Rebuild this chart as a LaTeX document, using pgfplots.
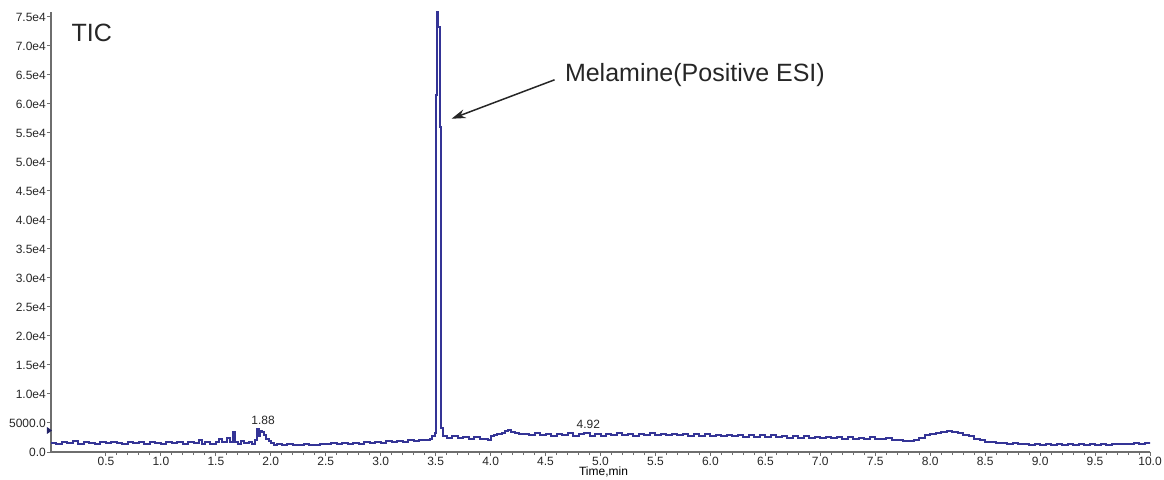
\documentclass[border=0pt]{standalone}
\usepackage{fontspec}
\setmainfont{Liberation Sans}
\usepackage{pgfplots}
\pgfplotsset{compat=1.18}
\usetikzlibrary{calc,arrows.meta}

\definecolor{ticblue}{RGB}{52,52,150}
\definecolor{axgray}{RGB}{110,110,110}

\pgfplotstableread{
t I
0.00 1500
0.05 1350
0.10 1750
0.15 1550
0.20 1850
0.25 1450
0.30 1800
0.35 1550
0.40 1400
0.45 1750
0.50 1500
0.55 1800
0.60 1550
0.65 1350
0.70 1750
0.75 1500
0.80 1700
0.85 1400
0.90 1800
0.95 1550
1.00 1350
1.05 1750
1.10 1500
1.15 1700
1.20 1400
1.25 1750
1.30 1500
1.35 2100
1.37 1450
1.40 1650
1.45 1450
1.50 1750
1.53 2300
1.56 1650
1.60 2400
1.63 1750
1.66 3400
1.675 1650
1.70 1450
1.73 1900
1.76 1550
1.80 1800
1.83 1450
1.86 2000
1.875 3900
1.89 2800
1.905 3700
1.92 3400
1.94 2900
1.96 2300
1.98 1900
2.00 1500
2.03 1250
2.06 1450
2.10 1200
2.15 1400
2.20 1250
2.25 1150
2.30 1400
2.35 1250
2.40 1200
2.45 1450
2.50 1300
2.55 1500
2.60 1350
2.65 1550
2.70 1400
2.75 1600
2.80 1450
2.85 1650
2.90 1500
2.95 1750
3.00 1600
3.05 1850
3.10 1700
3.15 1950
3.20 1800
3.25 2000
3.30 1850
3.35 2100
3.40 2050
3.45 2250
3.47 2800
3.49 3200
3.50 61600
3.512 78000
3.525 73300
3.538 56000
3.552 4200
3.57 2700
3.60 2450
3.65 2700
3.70 2350
3.75 2600
3.80 2300
3.85 2550
3.90 2250
3.95 2300
3.98 2000
4.00 2700
4.03 2950
4.06 3050
4.10 3350
4.13 3700
4.16 3850
4.19 3400
4.22 3350
4.26 3100
4.30 3150
4.35 2950
4.40 3200
4.45 2850
4.50 3150
4.55 2800
4.60 3100
4.65 2850
4.70 3200
4.75 2800
4.80 3100
4.85 3250
4.90 2800
4.95 3150
5.00 2800
5.05 3100
5.10 2850
5.15 3200
5.20 2850
5.25 3050
5.30 2800
5.35 3150
5.40 2900
5.45 3200
5.50 2900
5.55 3100
5.60 2850
5.65 3150
5.70 2850
5.75 3050
5.80 2800
5.85 3150
5.90 2800
5.95 3050
6.00 2700
6.05 3000
6.10 2750
6.15 2950
6.20 2700
6.25 2950
6.30 2650
6.35 2900
6.40 2650
6.45 2850
6.50 2600
6.55 2850
6.60 2550
6.65 2800
6.70 2500
6.75 2750
6.80 2500
6.85 2700
6.90 2450
6.95 2650
7.00 2400
7.05 2650
7.10 2350
7.15 2600
7.20 2300
7.25 2550
7.30 2250
7.35 2500
7.40 2250
7.45 2550
7.50 2300
7.55 2200
7.60 2350
7.65 2100
7.70 2050
7.75 1900
7.80 1850
7.85 2150
7.90 2500
7.95 2950
8.00 3150
8.05 3350
8.10 3450
8.15 3600
8.20 3450
8.25 3350
8.30 3000
8.35 2750
8.40 2300
8.45 2050
8.50 1800
8.55 1700
8.60 1500
8.65 1550
8.70 1350
8.75 1500
8.80 1300
8.85 1450
8.90 1250
8.95 1400
9.00 1250
9.05 1300
9.10 1200
9.15 1400
9.20 1200
9.25 1400
9.30 1250
9.35 1350
9.40 1200
9.45 1400
9.50 1200
9.55 1400
9.60 1250
9.65 1450
9.70 1300
9.75 1450
9.80 1300
9.85 1500
9.90 1350
9.95 1600
10.00 1500
}\tic

\begin{document}
\begin{tikzpicture}
\begin{axis}[
    scale only axis,
    width=1099pt, height=440pt,
    xmin=0, xmax=10,
    ymin=0, ymax=75860,
    axis x line=bottom, axis y line=left,
    x axis line style={-, draw=axgray, line width=1.5pt},
    y axis line style={-, draw=axgray, line width=2pt},
    tick align=outside,
    xtick={0.5,1,...,10},
    xticklabels={0.5,1.0,1.5,2.0,2.5,3.0,3.5,4.0,4.5,5.0,5.5,6.0,6.5,7.0,7.5,8.0,8.5,9.0,9.5,10.0},
    minor x tick num=4,
    ytick={0,5000,...,75000},
    yticklabels={0.0,5000.0,1.0e4,1.5e4,2.0e4,2.5e4,3.0e4,3.5e4,4.0e4,4.5e4,5.0e4,5.5e4,6.0e4,6.5e4,7.0e4,7.5e4},
    scaled y ticks=false,
    major tick length=4pt, minor tick length=3pt,
    every tick/.style={draw=axgray, line width=1pt},
    tick label style={font=\fontsize{12}{14}\selectfont, text=black!85},
    yticklabel style={inner sep=1pt},
    xticklabel style={inner sep=1pt},
    xlabel={Time,min},
    xlabel style={font=\fontsize{12}{14}\selectfont, at={(axis description cs:0.5,0)}, anchor=center, yshift=-19.5pt, xshift=3pt},
]
\addplot[const plot, ticblue, line width=2pt] table[x=t, y=I] {\tic};
\coordinate (O) at (rel axis cs:0,0);
\node[anchor=west, font=\fontsize{25}{30}\selectfont, text=black!85] at (axis cs:0.155,72250) {TIC};
\node[anchor=west, font=\fontsize{25}{30}\selectfont, text=black!85] at (axis cs:4.645,65030) {Melamine(Positive ESI)};
\draw[line width=1.5pt, black!85, -{Stealth[length=14pt,width=9pt]}] (axis cs:4.582,64170) -- (axis cs:3.645,57460);
\node[font=\fontsize{12}{14}\selectfont, text=black!85] at (axis cs:1.93,5500) {1.88};
\node[font=\fontsize{12}{14}\selectfont, text=black!85] at (axis cs:4.89,4800) {4.92};
\end{axis}
\fill[ticblue!70!black] ($(O)+(-4pt,25pt)$) -- ($(O)+(1pt,21.5pt)$) -- ($(O)+(-4pt,18pt)$) -- cycle;
\pgfresetboundingbox
\path[use as bounding box] ($(O)+(-51pt,-27pt)$) rectangle ($(O)+(1113pt,452pt)$);
\end{tikzpicture}
\end{document}
